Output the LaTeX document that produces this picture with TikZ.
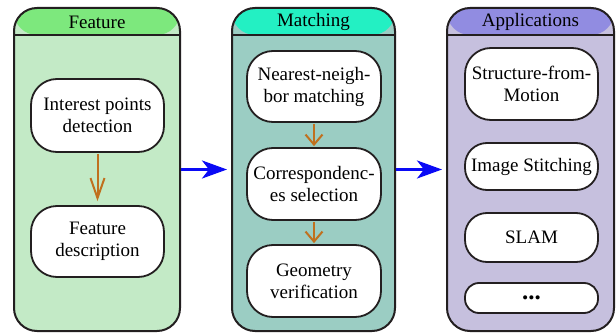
\documentclass[tikz,border=0pt]{standalone}
\usepackage{fontspec}
\setmainfont{Liberation Serif}
\usetikzlibrary{arrows.meta}
\definecolor{edge}{HTML}{231F20}
\definecolor{fhead}{HTML}{7DE87D}
\definecolor{fbody}{HTML}{C3EAC6}
\definecolor{mhead}{HTML}{23F0C3}
\definecolor{mbody}{HTML}{9BCDC3}
\definecolor{ahead}{HTML}{918CE1}
\definecolor{abody}{HTML}{C6C0DE}
\definecolor{flowc}{HTML}{C0701E}
\definecolor{linkc}{HTML}{0A0AF5}
\begin{document}
\begin{tikzpicture}[x=1pt,y=1pt,
  font=\fontsize{19}{22}\selectfont,
  panel/.style={draw=edge, line width=2pt, rounded corners=23pt,
    minimum height=323pt, inner sep=0pt,
    path picture={\fill[#1] ([yshift=-27pt]path picture bounding box.north west)
        rectangle (path picture bounding box.north east);
      \draw[edge, line width=2pt] ([yshift=-27pt]path picture bounding box.north west)
        -- ([yshift=-27pt]path picture bounding box.north east);}},
  headtxt/.style={anchor=base, inner sep=0pt},
  box/.style={draw=edge, line width=1.8pt, fill=white, rounded corners=26pt,
    minimum width=133pt, align=center, inner sep=0pt},
  flow/.style={draw=flowc, line width=2pt},
  link/.style={draw=linkc, line width=3pt, -{Stealth[length=25pt,width=18pt,inset=7pt]}, shorten >=4pt}
]
\useasboundingbox (0,0) rectangle (616,333);

% panels
\node[panel=fhead, fill=fbody, minimum width=166pt] (feat) at (97,163.5) {};
\node[panel=mhead, fill=mbody, minimum width=163pt] (match) at (313.5,163.5) {};
\node[panel=ahead, fill=abody, minimum width=167pt] (app) at (530.5,163.5) {};

\node[headtxt] (feath) at (97,304.5) {Feature};
\node[headtxt] (matchh) at (313.5,306) {Matching};
\node[headtxt] (apph) at (530.5,306) {Applications};

% Feature boxes
\node[box, minimum height=73pt] (f1) at (97.5,217.5) {Interest points\\detection};
\node[box, minimum height=71pt] (f2) at (97.5,91.5) {Feature\\description};

% Matching boxes
\node[box, minimum width=134pt, minimum height=71pt] (m1) at (314,246.5) {Nearest-neigh-\\bor matching};
\node[box, minimum width=134pt, minimum height=72pt] (m2) at (314,149) {Correspondenc-\\es selection};
\node[box, minimum width=134pt, minimum height=72pt] (m3) at (314,52) {Geometry\\verification};

% Applications boxes
\node[box, minimum height=72pt] (a1) at (531.5,249) {Structure-from-\\Motion};
\node[box, minimum height=47pt, rounded corners=22pt] (a2) at (531.5,166.5) {Image Stitching};
\node[box, minimum height=49pt, rounded corners=22pt] (a3) at (531.5,95.5) {SLAM};
\node[box, minimum height=30pt, rounded corners=14pt] (a4) at (531.5,35) {\fontsize{25}{25}\selectfont\textbf{...}};

% brown flow arrows
\draw[flow, -{Straight Barb[length=20pt,width=14pt]}, shorten <=1pt, shorten >=4pt] (f1) -- (f2);
\draw[flow, -{Straight Barb[length=10pt,width=17pt]}, shorten <=1pt, shorten >=1pt] (m1) -- (m2);
\draw[flow, -{Straight Barb[length=10pt,width=17pt]}, shorten <=1pt, shorten >=1pt] (m2) -- (m3);

% blue links
\draw[link] (feat.east) -- (match.west);
\draw[link] (match.east) -- (app.west);
\end{tikzpicture}
\end{document}
